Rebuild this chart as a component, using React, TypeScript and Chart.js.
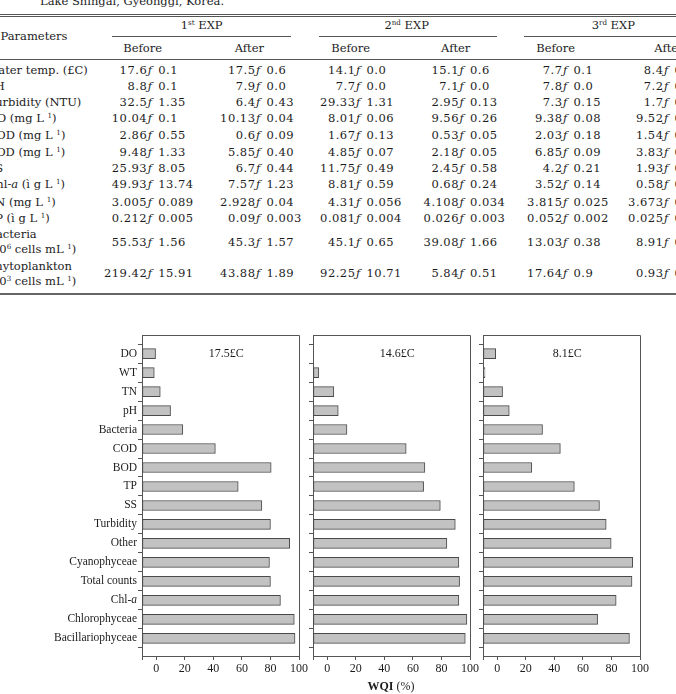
import React, { useEffect, useRef } from 'react';
import { Chart, registerables } from 'chart.js';

Chart.register(...registerables);

// ---------- Bar chart data (WQI, %) ----------
const parameters = [
  'DO', 'WT', 'TN', 'pH', 'Bacteria', 'COD', 'BOD', 'TP', 'SS', 'Turbidity',
  'Other', 'Cyanophyceae', 'Total counts', 'Chl-a', 'Chlorophyceae', 'Bacillariophyceae',
];
const wqiExp1 = [-0.5, -1.4, 2.8, 10.0, 18.6, 41.4, 80.5, 57.4, 74.0, 80.0, 93.5, 79.3, 80.0, 87.0, 96.7, 97.2];
const wqiExp2 = [null, -5.9, 4.6, 7.7, 13.8, 55.3, 68.4, 67.5, 79.2, 89.7, 83.8, 92.2, 92.7, 92.2, 97.8, 96.7];
const wqiExp3 = [-1.1, -8.6, 3.7, 8.4, 31.7, 44.2, 24.2, 54.0, 71.6, 76.3, 79.8, 94.9, 94.4, 83.3, 70.3, 92.6];
const panelTemps = ['17.5£C', '14.6£C', '8.1£C'];
const xTicks = [-10, 0, 20, 40, 60, 80, 100];

// ---------- Table data ----------
const expHeaders = ['1', '2', '3'];
const expSup = ['st', 'nd', 'rd'];
const exp1Before = [['17.6', '0.1'], ['8.8', '0.1'], ['32.5', '1.35'], ['10.04', '0.1'], ['2.86', '0.55'], ['9.48', '1.33'], ['25.93', '8.05'], ['49.93', '13.74'], ['3.005', '0.089'], ['0.212', '0.005'], ['55.53', '1.56'], ['219.42', '15.91']];
const exp1After = [['17.5', '0.6'], ['7.9', '0.0'], ['6.4', '0.43'], ['10.13', '0.04'], ['0.6', '0.09'], ['5.85', '0.40'], ['6.7', '0.44'], ['7.57', '1.23'], ['2.928', '0.04'], ['0.09', '0.003'], ['45.3', '1.57'], ['43.88', '1.89']];
const exp2Before = [['14.1', '0.0'], ['7.7', '0.0'], ['29.33', '1.31'], ['8.01', '0.06'], ['1.67', '0.13'], ['4.85', '0.07'], ['11.75', '0.49'], ['8.81', '0.59'], ['4.31', '0.056'], ['0.081', '0.004'], ['45.1', '0.65'], ['92.25', '10.71']];
const exp2After = [['15.1', '0.6'], ['7.1', '0.0'], ['2.95', '0.13'], ['9.56', '0.26'], ['0.53', '0.05'], ['2.18', '0.05'], ['2.45', '0.58'], ['0.68', '0.24'], ['4.108', '0.034'], ['0.026', '0.003'], ['39.08', '1.66'], ['5.84', '0.51']];
const exp3Before = [['7.7', '0.1'], ['7.8', '0.0'], ['7.3', '0.15'], ['9.38', '0.08'], ['2.03', '0.18'], ['6.85', '0.09'], ['4.2', '0.21'], ['3.52', '0.14'], ['3.815', '0.025'], ['0.052', '0.002'], ['13.03', '0.38'], ['17.64', '0.9']];
const exp3After = [['8.4', '0.0'], ['7.2', '0.0'], ['1.7', '0.05'], ['9.52', '0.04'], ['1.54', '0.06'], ['3.83', '0.03'], ['1.93', '0.07'], ['0.58', '0.05'], ['3.673', '0.02'], ['0.025', '0.001'], ['8.91', '0.04'], ['0.93', '0.07']];

const FONT = "'DejaVu Serif', serif";
const CHART_FONT = "'Liberation Serif', 'DejaVu Serif', serif";
const INK = '#1c1c1c';
const RULE = '#555';
const LABEL_SIZE = 11.5;

Chart.defaults.font.family = CHART_FONT;

// ---------- Layout ----------
const PAGE_W = 676;
const PAGE_H = 694;
const frameLeft = [142, 313, 483];
const plotW = 157;
const canvasTop = 320;
const canvasH = PAGE_H - canvasTop;
const rightPad = 14;

const colAnchor = [147.7, 256, 356, 459.5, 563, 664];
const rowY = [70, 86.3, 102, 118.3, 135.3, 152.3, 168.3, 184.3, 201.7, 218.3, 241.7, 273.3];

// Closes the plot box on the top and right sides.
const framePlugin = {
  id: 'frameBox',
  afterDraw(chart: any) {
    const { ctx, chartArea: a } = chart;
    ctx.save();
    ctx.strokeStyle = RULE;
    ctx.lineWidth = 1;
    const t = Math.round(a.top) + 0.5;
    const r = Math.round(a.right) + 0.5;
    ctx.beginPath();
    ctx.moveTo(Math.round(a.left), t);
    ctx.lineTo(r, t);
    ctx.lineTo(r, Math.round(a.bottom) + 1);
    ctx.stroke();
    ctx.restore();
  },
};

// Water temperature note inside each panel.
const tempLabelPlugin = {
  id: 'tempLabel',
  afterDatasetsDraw(chart: any, _args: any, opts: any) {
    const { ctx, scales } = chart;
    ctx.save();
    ctx.font = `12px ${CHART_FONT}`;
    ctx.fillStyle = INK;
    ctx.textAlign = 'center';
    ctx.textBaseline = 'middle';
    ctx.fillText(opts.text, scales.x.getPixelForValue(49), scales.y.getPixelForValue(0));
    ctx.restore();
  },
};

// "Chl-a" gets an italic "a", so that one tick label is drawn here.
const ITALIC_LABEL = 'Chl-a';
const italicTickPlugin = {
  id: 'italicTick',
  afterDraw(chart: any, _args: any, opts: any) {
    if (!opts.enabled) return;
    const { ctx, scales, chartArea } = chart;
    const i = parameters.indexOf(ITALIC_LABEL);
    const y = scales.y.getPixelForValue(i);
    const right = chartArea.left - 4 - 1;
    ctx.save();
    ctx.fillStyle = INK;
    ctx.textBaseline = 'middle';
    ctx.textAlign = 'left';
    const head = ITALIC_LABEL.slice(0, -1);
    const tail = ITALIC_LABEL.slice(-1);
    ctx.font = `${LABEL_SIZE}px ${CHART_FONT}`;
    const wHead = ctx.measureText(head).width;
    ctx.font = `italic ${LABEL_SIZE}px ${CHART_FONT}`;
    const wTail = ctx.measureText(tail).width;
    const x0 = right - wHead - wTail;
    ctx.font = `${LABEL_SIZE}px ${CHART_FONT}`;
    ctx.fillText(head, x0, y);
    ctx.font = `italic ${LABEL_SIZE}px ${CHART_FONT}`;
    ctx.fillText(tail, x0 + wHead, y);
    ctx.restore();
  },
};

function WqiPanel({ idx, values }: { idx: number; values: (number | null)[] }) {
  const ref = useRef<HTMLCanvasElement>(null);
  const yW = idx === 0 ? frameLeft[0] : 10;
  const left = frameLeft[idx] - yW;
  const width = yW + plotW + rightPad;

  useEffect(() => {
    const points = values
      .map((v, i) => (v == null ? null : { x: v, y: i }))
      .filter((p) => p !== null);
    const chart = new Chart(ref.current as HTMLCanvasElement, {
      type: 'bar',
      data: {
        datasets: [
          {
            data: points as any,
            base: -10,
            barThickness: 10,
            backgroundColor: '#c2c2c2',
            borderColor: '#4a4a4a',
            borderWidth: 1,
            borderSkipped: false,
          } as any,
        ],
      },
      options: {
        indexAxis: 'y',
        animation: false,
        responsive: false,
        layout: { padding: { top: 15, right: rightPad, bottom: 0, left: 0 } },
        plugins: {
          legend: { display: false },
          tooltip: { enabled: false },
          tempLabel: { text: panelTemps[idx] },
          italicTick: { enabled: idx === 0 },
        } as any,
        scales: {
          y: {
            type: 'linear',
            reverse: true,
            offset: false,
            min: -0.98,
            max: 15.93,
            afterBuildTicks: (axis: any) => {
              axis.ticks = parameters.map((_, i) => ({ value: i }));
            },
            afterFit: (axis: any) => {
              axis.width = yW;
            },
            ticks: {
              autoSkip: false,
              padding: 1,
              color: INK,
              font: { size: LABEL_SIZE, family: CHART_FONT },
              callback: (v: any) =>
                idx === 0 && parameters[v] !== ITALIC_LABEL ? parameters[v] : '',
            },
            grid: { drawOnChartArea: false, drawTicks: true, tickLength: 4, color: RULE },
            border: { display: true, color: RULE, width: 1 },
          },
          x: {
            type: 'linear',
            min: -10,
            max: 100,
            afterBuildTicks: (axis: any) => {
              axis.ticks = xTicks.map((v) => ({ value: v }));
            },
            afterFit: (axis: any) => {
              axis.height = 38;
            },
            ticks: {
              autoSkip: false,
              maxRotation: 0,
              padding: 2,
              color: INK,
              font: { size: 12, family: CHART_FONT },
              callback: (v: any) => (v === -10 ? '' : String(v)),
            },
            grid: { drawOnChartArea: false, drawTicks: true, tickLength: 4, color: RULE },
            border: { display: true, color: RULE, width: 1 },
          },
        },
      },
      plugins: [framePlugin, tempLabelPlugin, italicTickPlugin],
    });
    return () => chart.destroy();
  }, []);

  return (
    <canvas
      ref={ref}
      width={width}
      height={canvasH}
      style={{ position: 'absolute', left, top: canvasTop, width, height: canvasH }}
    />
  );
}

// ---------- Table helpers ----------
const supStyle: React.CSSProperties = { fontSize: '0.62em', verticalAlign: '0.55em', lineHeight: 0 };

function At({ x, y, align = 'left', children, style }: any) {
  const base: React.CSSProperties = {
    position: 'absolute',
    top: y - 7,
    lineHeight: '14px',
    whiteSpace: 'nowrap',
    ...style,
  };
  if (align === 'left') base.left = x;
  else if (align === 'right') base.right = PAGE_W - x;
  else {
    base.left = x;
    base.transform = 'translateX(-50%)';
  }
  return <div style={base}>{children}</div>;
}

function HLine({ y, x1 = 0, x2 = PAGE_W, h = 1, color = RULE }: any) {
  return <div style={{ position: 'absolute', left: x1, top: y, width: x2 - x1, height: h, background: color }} />;
}

const perL = (unit: React.ReactNode) => (
  <>
    ({unit} L <sup style={supStyle}>1</sup>)
  </>
);

const paramLabels: React.ReactNode[] = [
  <>Water temp. (£C)</>,
  <>pH</>,
  <>Turbidity (NTU)</>,
  <>DO {perL('mg')}</>,
  <>COD {perL('mg')}</>,
  <>BOD {perL('mg')}</>,
  <>SS</>,
  <>Chl-<i>a</i> {perL('ì g')}</>,
  <>TN {perL('mg')}</>,
  <>TP {perL('ì g')}</>,
];

const tableCols = [exp1Before, exp1After, exp2Before, exp2After, exp3Before, exp3After];
const beforeX = [142.7, 350.7, 555.7];
const afterX = [249.3, 455.7, 669];
const expX = [201.7, 406.7, 613.3];
const expRule = [[111.7, 291], [319.3, 496.7], [524, 720]];
const numStyle: React.CSSProperties = { letterSpacing: '0.5px' };

function DataTable() {
  const labelX = -12.5;
  return (
    <>
      <At x={40} y={1}>Lake Shingal, Gyeonggi, Korea.</At>
      <HLine y={14} />
      <HLine y={16} />
      <At x={0.5} y={36}>Parameters</At>
      {expHeaders.map((n, i) => (
        <At key={'e' + i} x={expX[i]} y={25} align="center">
          {n}
          <sup style={supStyle}>{expSup[i]}</sup> EXP
        </At>
      ))}
      {expRule.map((r, i) => (
        <HLine key={'r' + i} y={36} x1={r[0]} x2={r[1]} />
      ))}
      {beforeX.map((x, i) => (
        <At key={'b' + i} x={x} y={47.7} align="center">Before</At>
      ))}
      {afterX.map((x, i) => (
        <At key={'a' + i} x={x} y={47.7} align="center">After</At>
      ))}
      <HLine y={59} />
      {paramLabels.map((lab, i) => (
        <At key={'p' + i} x={labelX} y={rowY[i]}>{lab}</At>
      ))}
      <At x={labelX} y={234.3}>Bacteria</At>
      <At x={labelX} y={249}>
        (10<sup style={supStyle}>6</sup> cells mL <sup style={supStyle}>1</sup>)
      </At>
      <At x={labelX} y={266}>Phytoplankton</At>
      <At x={labelX} y={280.5}>
        (10<sup style={supStyle}>3</sup> cells mL <sup style={supStyle}>1</sup>)
      </At>
      {tableCols.map((col, c) =>
        col.map(([mean, sd], r) => (
          <React.Fragment key={c + '-' + r}>
            <At x={colAnchor[c] - 0.5} y={rowY[r]} align="right" style={numStyle}>{mean}</At>
            <At x={colAnchor[c]} y={rowY[r]}><i>ƒ</i></At>
            <At x={colAnchor[c] + 10.5} y={rowY[r]} style={numStyle}>{sd}</At>
          </React.Fragment>
        ))
      )}
      <HLine y={292.5} h={2} color="#666" />
    </>
  );
}

export default function App() {
  return (
    <div
      style={{
        position: 'absolute',
        left: 0,
        top: 0,
        width: PAGE_W,
        height: PAGE_H,
        overflow: 'hidden',
        background: '#fff',
        fontFamily: FONT,
        fontSize: '11.5px',
        color: INK,
      }}
    >
      <DataTable />
      <WqiPanel idx={0} values={wqiExp1} />
      <WqiPanel idx={1} values={wqiExp2} />
      <WqiPanel idx={2} values={wqiExp3} />
      <div
        style={{
          position: 'absolute',
          left: 391,
          top: 679,
          transform: 'translateX(-50%)',
          fontFamily: CHART_FONT,
          fontSize: '12px',
          lineHeight: '14px',
          whiteSpace: 'nowrap',
        }}
      >
        <b>WQI</b> (%)
      </div>
    </div>
  );
}
